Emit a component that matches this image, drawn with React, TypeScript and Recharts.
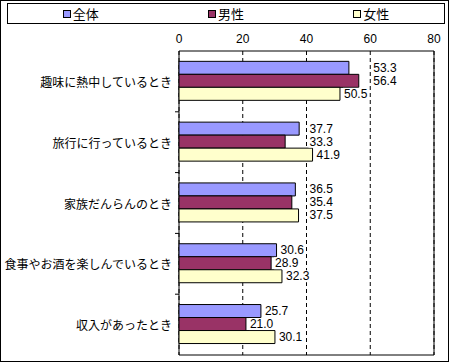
import React from "react";
import {
  BarChart,
  Bar,
  XAxis,
  YAxis,
  CartesianGrid,
  Legend,
  LabelList,
  ReferenceArea,
} from "recharts";

const categories = [
  "趣味に熱中しているとき",
  "旅行に行っているとき",
  "家族だんらんのとき",
  "食事やお酒を楽しんでいるとき",
  "収入があったとき",
];
const allValues = [53.3, 37.7, 36.5, 30.6, 25.7];
const maleValues = [56.4, 33.3, 35.4, 28.9, 21.0];
const femaleValues = [50.5, 41.9, 37.5, 32.3, 30.1];
const seriesNames = ["全体", "男性", "女性"];
const xTicks = [0, 20, 40, 60, 80];
const gridValues = [20, 40, 60];

const colors = ["#9999FF", "#993366", "#FFFFCC"];

const data = categories.map((c, i) => ({
  name: c,
  all: allValues[i],
  male: maleValues[i],
  female: femaleValues[i],
}));

const FONT = "'MS PGothic', 'Noto Sans CJK JP', sans-serif";
const NUMFONT = "'Liberation Sans', Arial, sans-serif";

const CategoryTick = (props: any) => {
  const { x, y, payload } = props;
  const off = payload && payload.offset ? payload.offset : 0;
  return (
    <g>
      <text
        x={x}
        y={y}
        textAnchor="end"
        dominantBaseline="central"
        fontSize={12}
        fontFamily={FONT}
        fill="#000"
      >
        {payload.value}
      </text>
      {payload.index > 0 ? (
        <line x1={x + 3} x2={x + 7} y1={y - off} y2={y - off} stroke="#000" />
      ) : null}
    </g>
  );
};

// Data label right of the bar end, stepping past a gridline
// if the gridline would run through the start of the label.
const ValueLabel = (props: any) => {
  const { x, y, width, height, value } = props;
  const v = Number(value);
  const pxPerUnit = v ? width / v : 0;
  let start = x + width + 4;
  gridValues.forEach((g) => {
    const gx = x + g * pxPerUnit;
    if (gx >= start - 2 && gx <= start + 18) start = gx + 3;
  });
  const text = v.toFixed(1);
  const w = 23;
  return (
    <g>
      <rect x={start - 1} y={y + height / 2 - 6} width={w + 2} height={12} fill="#fff" />
      <text
        x={start}
        y={y + height / 2}
        dominantBaseline="central"
        fontSize={12}
        fontFamily={NUMFONT}
        fill="#000"
      >
        {text}
      </text>
    </g>
  );
};

const LegendContent = () => (
  <div
    style={{
      boxSizing: "border-box",
      width: 438,
      height: 21,
      border: "1px solid #000",
      display: "flex",
      background: "#fff",
    }}
  >
    {seriesNames.map((n, i) => (
      <div
        key={n}
        style={{
          flex: 1,
          display: "flex",
          alignItems: "center",
          justifyContent: "center",
          fontFamily: FONT,
          fontSize: 13,
          color: "#000",
        }}
      >
        <span
          style={{
            display: "inline-block",
            boxSizing: "border-box",
            width: 8,
            height: 8,
            background: colors[i],
            border: "1px solid #000",
            marginRight: 2,
          }}
        />
        <span>{n}</span>
      </div>
    ))}
  </div>
);

export default function App() {
  return (
    <div
      style={{
        position: "absolute",
        left: 0,
        top: 0,
        width: 449,
        height: 362,
        boxSizing: "border-box",
        border: "1px solid #000",
        background: "#fff",
      }}
    >
      <div style={{ position: "absolute", left: -1, top: -1 }}>
        <BarChart
          width={450}
          height={363}
          data={data}
          layout="vertical"
          margin={{ top: 10, right: 16, bottom: 8, left: 0 }}
          barCategoryGap="17%"
          barGap={0}
        >
          <Legend
            verticalAlign="top"
            content={() => <LegendContent />}
            wrapperStyle={{ top: 3, left: 7, width: 438, height: 21 }}
          />
          <CartesianGrid
            horizontal={false}
            stroke="#000"
            strokeDasharray="4 3"
          />
          <XAxis
            type="number"
            orientation="top"
            domain={[0, 80]}
            ticks={xTicks}
            axisLine={false}
            tickLine={false}
            height={20}
            tick={{ fontSize: 12, fontFamily: NUMFONT, fill: "#000" }}
            interval={0}
          />
          <YAxis
            type="category"
            dataKey="name"
            width={179}
            axisLine={false}
            tickLine={false}
            tickSize={5}
            tickMargin={2}
            tick={<CategoryTick />}
            interval={0}
          />
          <Bar dataKey="all" fill={colors[0]} stroke="#000" strokeWidth={1} isAnimationActive={false}>
            <LabelList dataKey="all" content={<ValueLabel />} />
          </Bar>
          <Bar dataKey="male" fill={colors[1]} stroke="#000" strokeWidth={1} isAnimationActive={false}>
            <LabelList dataKey="male" content={<ValueLabel />} />
          </Bar>
          <Bar dataKey="female" fill={colors[2]} stroke="#000" strokeWidth={1} isAnimationActive={false}>
            <LabelList dataKey="female" content={<ValueLabel />} />
          </Bar>
          <ReferenceArea x1={0} x2={80} stroke="#000" strokeWidth={1} fill="none" fillOpacity={0} ifOverflow="visible" />
        </BarChart>
      </div>
    </div>
  );
}
